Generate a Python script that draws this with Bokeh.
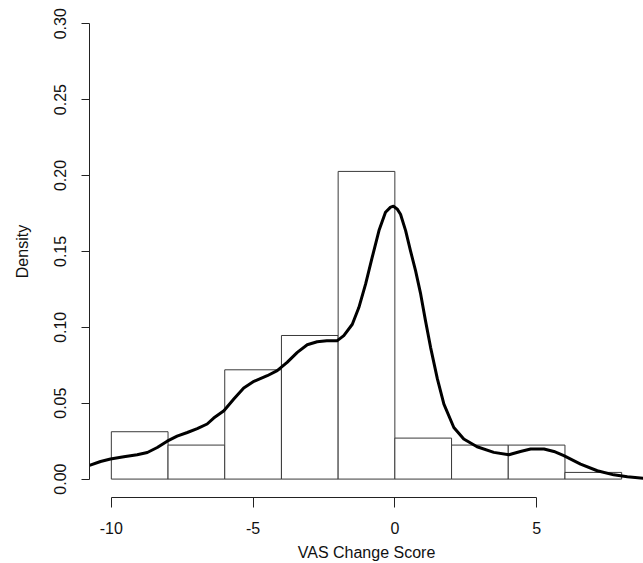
from bokeh.plotting import figure
from bokeh.models import Range1d, FixedTicker
from bokeh.embed import file_html
from bokeh.resources import INLINE

# Histogram bins (VAS change score) and densities
bin_left = [-10, -8, -6, -4, -2, 0, 2, 4, 6]
bin_right = [-8, -6, -4, -2, 0, 2, 4, 6, 8]
bin_density = [0.0312, 0.0224, 0.0720, 0.0946, 0.2027, 0.0270, 0.0224, 0.0224, 0.0044]

# Kernel density estimate
kde_x = [-10.77, -10.38, -10.03, -9.56, -9.09, -8.73, -8.38, -8.03, -7.68, -7.32,
         -6.97, -6.62, -6.39, -6.03, -5.68, -5.33, -4.97, -4.50, -4.15, -3.80,
         -3.44, -3.09, -2.74, -2.40, -2.03, -1.80, -1.50, -1.27, -1.03, -0.80,
         -0.56, -0.33, -0.15, -0.05, 0.08, 0.20, 0.38, 0.55, 0.73, 0.91, 1.08,
         1.26, 1.50, 1.73, 2.08, 2.43, 2.90, 3.49, 4.02, 4.43, 4.79,
         5.26, 5.61, 5.96, 6.55, 7.14, 7.72, 8.20, 8.77]
kde_y = [0.0090, 0.0116, 0.0132, 0.0147, 0.0160, 0.0175, 0.0208, 0.0250, 0.0283, 0.0307,
         0.0332, 0.0363, 0.0402, 0.0450, 0.0527, 0.0600, 0.0644, 0.0681, 0.0714, 0.0769,
         0.0835, 0.0885, 0.0905, 0.0911, 0.0912, 0.0945, 0.1020, 0.1130, 0.1286, 0.1460,
         0.1637, 0.1758, 0.1792, 0.1797, 0.1780, 0.1745, 0.1637, 0.1505, 0.1373, 0.1220, 0.1044,
         0.0868, 0.0660, 0.0494, 0.0340, 0.0264, 0.0213, 0.0176, 0.0160, 0.0182, 0.0198,
         0.0198, 0.0182, 0.0154, 0.0099, 0.0055, 0.0028, 0.0015, 0.0006]

x_ticks = [-10, -5, 0, 5]
x_tick_labels = ["-10", "-5", "0", "5"]
y_ticks = [0.0, 0.05, 0.10, 0.15, 0.20, 0.25, 0.30]
y_tick_labels = ["0.00", "0.05", "0.10", "0.15", "0.20", "0.25", "0.30"]

FONT = "Liberation Sans"
TXT = "#111111"

p = figure(width=643, height=563, output_backend="svg", toolbar_location=None,
           x_range=Range1d(-10.77, 8.77), y_range=Range1d(-0.01213, 0.3120),
           min_border_left=89, min_border_right=0, min_border_top=5, min_border_bottom=66)
p.outline_line_color = None
p.xgrid.visible = False
p.ygrid.visible = False
p.background_fill_color = "white"
p.border_fill_color = "white"

p.quad(left=bin_left, right=bin_right, top=bin_density, bottom=0,
       fill_color="white", line_color="#3a3a3a", line_width=1)
p.line(kde_x, kde_y, line_color="black", line_width=3, line_join="round")

xa = p.xaxis[0]
xa.ticker = FixedTicker(ticks=x_ticks)
xa.bounds = (x_ticks[0], x_ticks[-1])
xa.major_label_overrides = {t: l for t, l in zip(x_ticks, x_tick_labels)}
xa.axis_label = "VAS Change Score"
xa.major_tick_out = 10
xa.major_tick_in = 0
xa.minor_tick_out = 0
xa.minor_tick_in = 0
xa.major_label_standoff = 14
xa.axis_label_standoff = 7

ya = p.yaxis[0]
ya.ticker = FixedTicker(ticks=y_ticks)
ya.bounds = (y_ticks[0], y_ticks[-1])
ya.major_label_overrides = {t: l for t, l in zip(y_ticks, y_tick_labels)}
ya.major_label_orientation = "vertical"
ya.axis_label = "Density"
ya.major_tick_out = 8
ya.major_tick_in = 0
ya.minor_tick_out = 0
ya.minor_tick_in = 0
ya.major_label_standoff = 15
ya.axis_label_standoff = 21

for ax in (xa, ya):
    ax.axis_line_color = "#222222"
    ax.major_tick_line_color = "#222222"
    ax.axis_line_width = 1
    ax.major_label_text_font = FONT
    ax.major_label_text_font_size = "16px"
    ax.major_label_text_color = TXT
    ax.axis_label_text_font = FONT
    ax.axis_label_text_font_size = "16px"
    ax.axis_label_text_font_style = "normal"
    ax.axis_label_text_color = TXT

open("out.html", "w").write(file_html(p, INLINE))
